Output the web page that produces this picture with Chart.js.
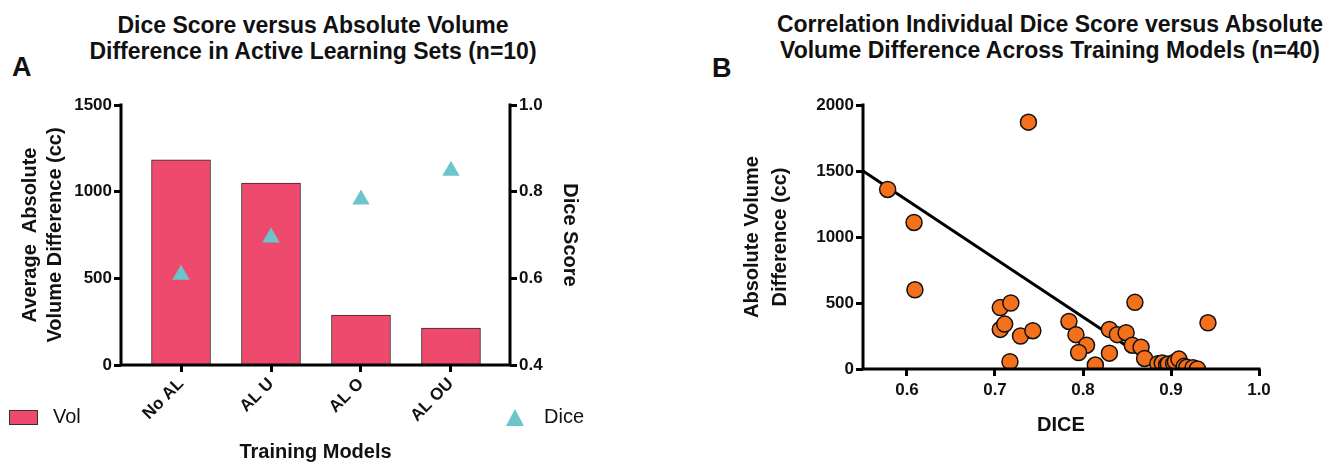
<!DOCTYPE html>
<html>
<head>
<meta charset="utf-8">
<script src="https://cdn.jsdelivr.net/npm/chart.js@4.4.1/dist/chart.umd.min.js"></script>
<style>
  body { margin: 0; width: 1337px; height: 464px; overflow: hidden; background: #fff; position: relative;
         font-family: 'Liberation Sans', Arial, sans-serif; color: #111; }
  .box { position: absolute; top: 0; }
  .title { position: absolute; font-weight: bold; font-size: 23px; line-height: 26px; text-align: center; white-space: nowrap; }
  .panel { position: absolute; font-family: 'Liberation Sans Narrow', 'Liberation Sans', sans-serif; font-weight: bold; font-size: 27px; line-height: 30px; }
  .leg { position: absolute; font-size: 20px; line-height: 24px; }
</style>
</head>
<body>
<div class="title" style="left:13px; width:600px; top:12px;">Dice Score versus Absolute Volume<br>Difference in Active Learning Sets (n=10)</div>
<div class="title" style="left:750px; width:600px; top:11px;">Correlation Individual Dice Score versus Absolute<br>Volume Difference Across Training Models (n=40)</div>
<div class="panel" style="left:12px; top:52px;">A</div>
<div class="panel" style="left:712px; top:53px;">B</div>

<div class="box" style="left:0; width:640px; height:464px;"><canvas id="chartA" width="640" height="464"></canvas></div>
<div class="box" style="left:680px; width:657px; height:464px;"><canvas id="chartB" width="657" height="464"></canvas></div>

<div style="position:absolute; left:9px; top:410px; width:27px; height:13px; background:#ee4a6e; border:1px solid #333;"></div>
<div class="leg" style="left:53px; top:404px;">Vol</div>
<div style="position:absolute; left:506px; top:409px; width:18px; height:17px; background:#6cc5cb; clip-path:polygon(50% 0, 100% 100%, 0 100%);"></div>
<div class="leg" style="left:544px; top:404px;">Dice</div>

<script>
// panel A data
const categories = ['No AL', 'AL U', 'AL O', 'AL OU'];
const volValues = [1183, 1050, 288, 213];
const diceValues = [0.608, 0.694, 0.782, 0.848];
const volTicks = [0, 500, 1000, 1500];
const diceTicks = [0.4, 0.6, 0.8, 1.0];

// panel B data
const pointDice = [0.578, 0.608, 0.609, 0.706, 0.718, 0.706, 0.711, 0.717, 0.738, 0.729,
                   0.743, 0.784, 0.792, 0.804, 0.795, 0.814, 0.830, 0.830, 0.839, 0.849,
                   0.859, 0.856, 0.866, 0.870, 0.885, 0.890, 0.895, 0.897, 0.903, 0.905,
                   0.909, 0.915, 0.918, 0.925, 0.930, 0.942];
const pointVol = [1360, 1110, 600, 465, 500, 300, 340, 55, 1870, 250,
                  290, 360, 260, 180, 125, 30, 120, 300, 260, 275,
                  505, 180, 165, 80, 40, 45, 30, 38, 43, 55,
                  75, 20, 13, 10, 0, 350];
const fitDice = [0.55, 0.889];
const fitVol = [1500, 0];
const dicexTicks = [0.6, 0.7, 0.8, 0.9, 1.0];
const absTicks = [0, 500, 1000, 1500, 2000];

Chart.defaults.font.family = "'Liberation Sans', Arial, sans-serif";
Chart.defaults.color = '#111';

const tickFont = { size: 17, weight: 'bold' };
const titleFont = { size: 20, weight: 'bold', lineHeight: 1.25 };

// axis lines along the scale boxes (drawn last, the built-in border did not show)
const axisLines = {
  id: 'axisLines',
  afterDraw(chart) {
    const ctx = chart.ctx;
    ctx.save();
    ctx.strokeStyle = '#000';
    ctx.lineWidth = 3;
    ctx.lineCap = 'square';
    ctx.beginPath();
    Object.values(chart.scales).forEach(s => {
      if (s.isHorizontal()) {
        ctx.moveTo(s.left, s.top); ctx.lineTo(s.right, s.top);
      } else if (s.position === 'right') {
        ctx.moveTo(s.left, s.top); ctx.lineTo(s.left, s.bottom);
      } else {
        ctx.moveTo(s.right, s.top); ctx.lineTo(s.right, s.bottom);
      }
    });
    ctx.stroke();
    ctx.restore();
  }
};

function axisStyle(extra) {
  return Object.assign({
    border: { display: false },
    grid: { display: true, drawOnChartArea: false, drawTicks: true, tickLength: 7, tickWidth: 3,
            tickColor: '#000', color: '#000', offset: false },
  }, extra);
}

new Chart(document.getElementById('chartA'), {
  type: 'bar',
  data: {
    datasets: [
      {
        type: 'scatter',
        label: 'Dice',
        data: diceValues.map((v, i) => ({ x: i, y: v })),
        yAxisID: 'y1',
        pointStyle: 'triangle',
        pointRadius: 10,
        backgroundColor: '#6cc5cb',
        borderColor: '#6cc5cb',
        borderWidth: 0,
        order: 0
      },
      {
        type: 'bar',
        label: 'Vol',
        data: volValues.map((v, i) => ({ x: i, y: v })),
        yAxisID: 'y',
        backgroundColor: '#ee4a6e',
        borderColor: '#3a2a2a',
        borderWidth: 1,
        barThickness: 59,
        order: 1
      }
    ]
  },
  options: {
    responsive: false,
    animation: false,
    layout: { padding: { top: 105, left: 0, right: 0, bottom: 0 } },
    plugins: { legend: { display: false }, tooltip: { enabled: false } },
    scales: {
      x: axisStyle({
        type: 'linear',
        offset: false,
        min: -0.667, max: 3.656,
        afterFit(s) { s.height = 99; },
        afterBuildTicks(s) { s.ticks = categories.map((c, i) => ({ value: i })); },
        ticks: { font: tickFont, maxRotation: 45, minRotation: 45, padding: 2,
                 callback: v => categories[v] },
        title: { display: true, text: 'Training Models', font: { size: 20, weight: 'bold', lineHeight: 1.2 },
                 padding: { top: 0, bottom: 0 } }
      }),
      y: axisStyle({
        position: 'left',
        min: 0, max: 1500,
        afterFit(s) { s.width = 121; },
        afterBuildTicks(s) { s.ticks = volTicks.map(v => ({ value: v })); },
        ticks: { font: tickFont, padding: 2, callback: v => String(v) },
        title: { display: true, text: ['Average  Absolute', 'Volume Difference (cc)'], font: titleFont,
                 padding: { top: 18, bottom: 0 } }
      }),
      y1: axisStyle({
        position: 'right',
        min: 0.4, max: 1.0,
        afterFit(s) { s.width = 130; },
        afterBuildTicks(s) { s.ticks = diceTicks.map(v => ({ value: v })); },
        ticks: { font: tickFont, padding: 2, callback: v => v.toFixed(1) },
        title: { display: true, text: 'Dice Score', font: titleFont, padding: { top: 58, bottom: 0 } }
      })
    }
  },
  plugins: [axisLines]
});

new Chart(document.getElementById('chartB'), {
  type: 'scatter',
  data: {
    datasets: [
      {
        label: 'Cases',
        data: pointDice.map((d, i) => ({ x: d, y: pointVol[i] })),
        pointRadius: 8,
        backgroundColor: '#f5701b',
        borderColor: '#111',
        borderWidth: 1.5,
        order: 0
      },
      {
        label: 'Fit',
        data: fitDice.map((d, i) => ({ x: d, y: fitVol[i] })),
        showLine: true,
        borderColor: '#000',
        borderWidth: 3,
        pointRadius: 0,
        order: 1
      }
    ]
  },
  options: {
    responsive: false,
    animation: false,
    layout: { padding: { top: 105, left: 0, right: 78, bottom: 0 } },
    plugins: { legend: { display: false }, tooltip: { enabled: false } },
    scales: {
      x: axisStyle({
        type: 'linear',
        min: 0.55, max: 1.0,
        afterFit(s) { s.height = 95; },
        afterBuildTicks(s) { s.ticks = dicexTicks.map(v => ({ value: v })); },
        ticks: { font: tickFont, padding: 4, maxRotation: 0, callback: v => v.toFixed(1) },
        title: { display: true, text: 'DICE', font: { size: 20, weight: 'bold', lineHeight: 1.2 },
                 padding: { top: 0, bottom: 27 } }
      }),
      y: axisStyle({
        min: 0, max: 2000,
        afterFit(s) { s.width = 183; },
        afterBuildTicks(s) { s.ticks = absTicks.map(v => ({ value: v })); },
        ticks: { font: tickFont, padding: 2, callback: v => String(v) },
        title: { display: true, text: ['Absolute Volume', 'Difference (cc)'], font: { size: 20, weight: 'bold', lineHeight: 1.4 },
                 padding: { top: 58, bottom: 0 } }
      })
    }
  },
  plugins: [axisLines]
});
</script>
</body>
</html>
